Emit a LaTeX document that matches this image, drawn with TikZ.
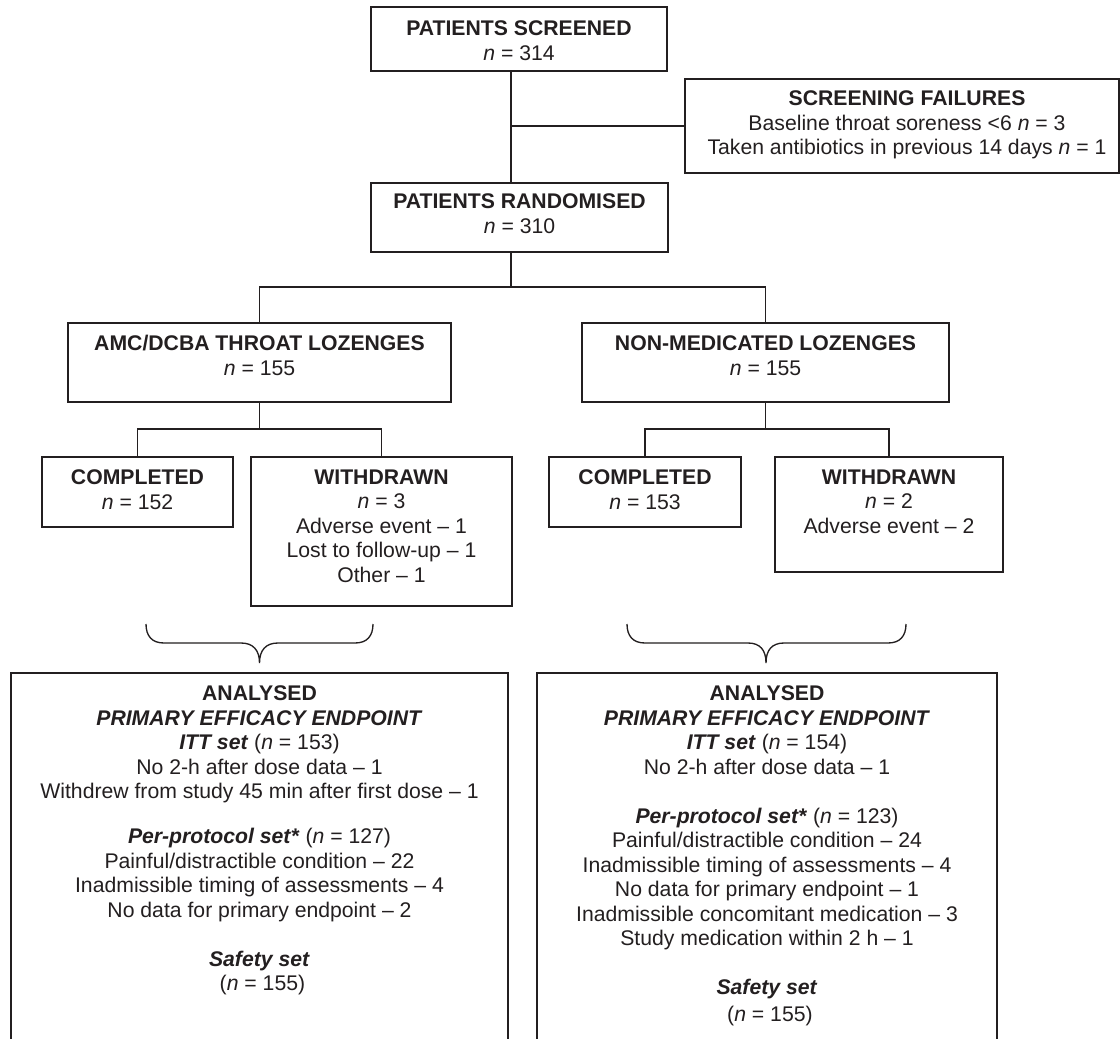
\documentclass[tikz,border=0pt]{standalone}
\usepackage{fontspec}
\setmainfont{Liberation Sans}
\definecolor{ink}{HTML}{231F20}
\newcommand{\nn}{\textit{n}}
\newcommand{\bi}[1]{\textbf{\textit{#1}}}
\begin{document}
\begin{tikzpicture}[x=0.75pt,y=-0.75pt,
  bx/.style n args={2}{draw=ink, line width=1pt, inner sep=0pt, minimum width=#1*0.75pt, minimum height=#2*0.75pt},
  tx/.style={anchor=north, align=center, inner sep=0pt, text=ink, font=\fontsize{15.9}{18.4}\selectfont},
  ln/.style={draw=ink, line width=1pt},
]
\useasboundingbox (0,0) rectangle (1120,1038);
\fill[white] (0,0) rectangle (1120,1038);
\clip (0,0) rectangle (1120,1038);

% boxes
\node[bx={296}{64}] (scr) at (519,39) {};
\node[tx] (scrT) at (519,20.4) {\textbf{PATIENTS SCREENED}\\\nn{} = 314};

\node[bx={434}{94}] (fail) at (902,126) {};
\node[tx] (failT) at (907,90.4) {\textbf{SCREENING FAILURES}\\Baseline throat soreness <6 \nn{} = 3\\Taken antibiotics in previous 14 days \nn{} = 1};

\node[bx={297}{69}] (rand) at (519.5,217.5) {};
\node[tx] (randT) at (519.5,193.9) {\textbf{PATIENTS RANDOMISED}\\\nn{} = 310};

\node[bx={383}{79}] (amc) at (259.5,362.5) {};
\node[tx] (amcT) at (259.5,335) {\textbf{AMC/DCBA THROAT LOZENGES}\\\nn{} = 155};
\node[bx={367}{79}] (non) at (765.5,362.5) {};
\node[tx] (nonT) at (765.5,335.4) {\textbf{NON-MEDICATED LOZENGES}\\\nn{} = 155};

\node[bx={191}{70}] (cmpL) at (137.5,492) {};
\node[tx] (cmpLT) at (137.5,469.4) {\textbf{COMPLETED}\\\nn{} = 152};
\node[bx={261}{149}] (wdL) at (381.5,531.5) {};
\node[tx] (wdLT) at (381.5,469.4) {\textbf{WITHDRAWN}\\\nn{} = 3\\Adverse event -- 1\\Lost to follow-up -- 1\\Other -- 1};
\node[bx={192}{70}] (cmpR) at (645,492) {};
\node[tx] (cmpRT) at (645,469.4) {\textbf{COMPLETED}\\\nn{} = 153};
\node[bx={228}{115}] (wdR) at (889,514.5) {};
\node[tx] (wdRT) at (889,469.4) {\textbf{WITHDRAWN}\\\nn{} = 2\\Adverse event -- 2};

\node[bx={497}{500}] (anaL) at (259.5,923) {};
\node[tx] (anaLT) at (259.5,685.4) {\textbf{ANALYSED}\\\bi{PRIMARY EFFICACY ENDPOINT}\\\bi{ITT set} (\nn{} = 153)\\No 2-h after dose data -- 1\\Withdrew from study 45 min after first dose -- 1\\[15.4pt]\bi{Per-protocol set*} (\nn{} = 127)\\Painful/distractible condition -- 22\\Inadmissible timing of assessments -- 4\\No data for primary endpoint -- 2\\[18.4pt]\bi{Safety set}\\\ (\nn{} = 155)};

\node[bx={460}{500}] (anaR) at (767,923) {};
\node[tx] (anaRT) at (767,685.4) {\textbf{ANALYSED}\\\bi{PRIMARY EFFICACY ENDPOINT}\\\bi{ITT set} (\nn{} = 154)\\No 2-h after dose data -- 1\\[18.4pt]\bi{Per-protocol set*} (\nn{} = 123)\\Painful/distractible condition -- 24\\Inadmissible timing of assessments -- 4\\No data for primary endpoint -- 1\\Inadmissible concomitant medication -- 3\\Study medication within 2 h -- 1\\[18.4pt]\bi{Safety set}\\[1.5pt]\ (\nn{} = 155)};

% connectors
\coordinate (tk) at (511,0);
\coordinate (fj) at (511,126);
\coordinate (rj) at (511,287);
\coordinate (lj) at (0,429);
\draw[ln] (scr.south -| tk) -- (rand.north -| tk);
\draw[ln] (fj) -- (fail.west |- fj);
\draw[ln] (rand.south -| tk) -- (rj);
\draw[ln] (amc.north) -- (amc.north |- rj) -- (non.north |- rj) -- (non.north);
\draw[ln] (amc.south) -- (amc.south |- lj);
\draw[ln] (cmpL.north) -- (cmpL.north |- lj) -- (wdL.north |- lj) -- (wdL.north);
\draw[ln] (non.south) -- (non.south |- lj);
\draw[ln] (cmpR.north) -- (cmpR.north |- lj) -- (wdR.north |- lj) -- (wdR.north);

% braces
\draw[ln] (146,624) .. controls (146,636) and (152,643) .. (164,643) -- (241,643)
  .. controls (253,643) and (259.5,650) .. (259.5,663)
  .. controls (259.5,650) and (266,643) .. (278,643) -- (355,643)
  .. controls (367,643) and (373,636) .. (373,624);
\draw[ln] (627,624) .. controls (627,636) and (633,643) .. (645,643) -- (748,643)
  .. controls (760,643) and (766,650) .. (766,663)
  .. controls (766,650) and (772,643) .. (784,643) -- (888,643)
  .. controls (900,643) and (906,636) .. (906,624);
\end{tikzpicture}
\end{document}
